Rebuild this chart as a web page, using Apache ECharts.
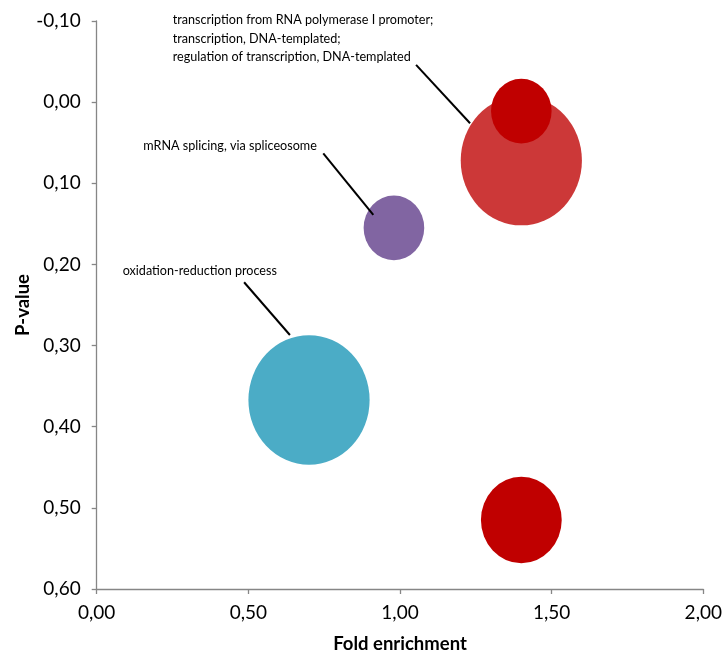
<!DOCTYPE html>
<html>
<head>
<meta charset="utf-8">
<script src="https://cdn.jsdelivr.net/npm/echarts@6/dist/echarts.min.js"></script>
<style>
  html, body { margin: 0; padding: 0; background: #fff; }
  #chart { width: 726px; height: 657px; }
</style>
</head>
<body>
<div id="chart"></div>
<script>
  // bubbles (big one first so the small one sits on top of it)
  var foldEnrichment = [1.40, 1.40, 0.98, 0.70, 1.40];
  var pValues = [0.072, 0.011, 0.155, 0.367, 0.515];
  var bubbleSize = [36, 9, 9, 36, 16];
  var bubbleColors = ['#CC3838', '#C00000', '#8165A2', '#4BACC6', '#C00000'];

  // leader lines, data coords: [start, end]
  var leaderLines = [
    [[1.053, -0.046], [1.231, 0.026]],
    [[0.747, 0.063], [0.912, 0.139]],
    [[0.486, 0.222], [0.637, 0.287]]
  ];
  var termLabels = [
    'transcription from RNA polymerase I promoter;\ntranscription, DNA-templated;\nregulation of transcription, DNA-templated',
    'mRNA splicing, via spliceosome',
    'oxidation-reduction process'
  ];

  var xTicks = { min: 0, max: 2, interval: 0.5 };
  var yTicks = { min: -0.1, max: 0.6, interval: 0.1 };

  var font = 'Lato, "Liberation Sans", sans-serif';
  var axisGrey = '#868686';

  function fmt(v) {
    return (Math.round(v * 100) / 100).toFixed(2).replace('.', ',');
  }

  var myChart = echarts.init(document.getElementById('chart'));

  var bubbleData = foldEnrichment.map(function (x, i) {
    return {
      value: [x, pValues[i], bubbleSize[i]],
      itemStyle: { color: bubbleColors[i], opacity: 1 }
    };
  });

  var series = [{
    type: 'scatter',
    data: bubbleData,
    symbol: 'circle',
    symbolSize: function (val) {
      var r = Math.sqrt(val[2]);
      return [r * 20.2, r * 21.6];
    },
    emphasis: { disabled: true },
    z: 2
  }];

  leaderLines.forEach(function (seg) {
    series.push({
      type: 'line',
      data: seg,
      symbol: 'none',
      lineStyle: { color: '#000', width: 2 },
      silent: true,
      z: 3
    });
  });

  var labelPos = [[172.7, 11], [143.3, 137], [122.7, 262]];

  var option = {
    animation: false,
    grid: {
      left: 96.7,
      right: 22.7,
      top: 21,
      bottom: 68,
      containLabel: false,
      outerBoundsMode: 'none'
    },
    xAxis: {
      type: 'value',
      min: xTicks.min,
      max: xTicks.max,
      interval: xTicks.interval,
      name: 'Fold enrichment',
      nameLocation: 'middle',
      nameGap: 46,
      nameMoveOverlap: false,
      nameTextStyle: { fontFamily: font, fontSize: 18.5, fontWeight: 'bold', color: '#000' },
      axisLine: { onZero: false, lineStyle: { color: axisGrey, width: 1.3 } },
      axisTick: { show: true, length: 5, lineStyle: { color: axisGrey, width: 1.3 } },
      splitLine: { show: false },
      axisLabel: { fontFamily: font, fontSize: 19, color: '#000', margin: 14, formatter: fmt }
    },
    yAxis: {
      type: 'value',
      inverse: true,
      min: yTicks.min,
      max: yTicks.max,
      interval: yTicks.interval,
      name: 'P-value',
      nameLocation: 'middle',
      nameGap: 64,
      nameMoveOverlap: false,
      nameTextStyle: { fontFamily: font, fontSize: 18.5, fontWeight: 'bold', color: '#000' },
      axisLine: { onZero: false, lineStyle: { color: axisGrey, width: 1.3 } },
      axisTick: { show: true, length: 5, lineStyle: { color: axisGrey, width: 1.3 } },
      splitLine: { show: false },
      axisLabel: { fontFamily: font, fontSize: 19, color: '#000', margin: 16, formatter: fmt }
    },
    graphic: termLabels.map(function (t, i) {
      return {
        type: 'text',
        left: labelPos[i][0],
        top: labelPos[i][1],
        silent: true,
        style: {
          text: t,
          fill: '#000',
          font: '12.6px ' + font,
          lineHeight: 18.5
        }
      };
    }),
    series: series
  };

  myChart.setOption(option);
</script>
</body>
</html>
